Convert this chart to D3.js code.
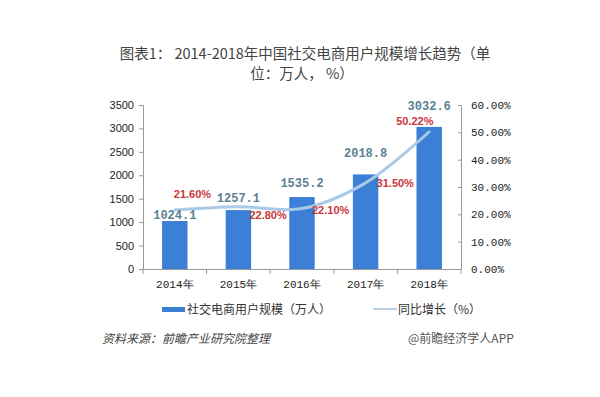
<!DOCTYPE html>
<html>
<head>
<meta charset="utf-8">
<script src="https://cdn.jsdelivr.net/npm/d3@7"></script>
<style>
  body { margin: 0; background: #fff; }
  svg { display: block; }
</style>
</head>
<body>
<script>
// chart data
var years = ["2014年", "2015年", "2016年", "2017年", "2018年"];
var users = [1024.1, 1257.1, 1535.2, 2018.8, 3032.6];
var growth = [21.60, 22.80, 22.10, 31.50, 50.22];
var leftTicks = [0, 500, 1000, 1500, 2000, 2500, 3000, 3500];
var rightTicks = [0, 10, 20, 30, 40, 50, 60];

// label nudges, in pixels (hand placed in the original)
var barLabelGap = [2, 8, 10, 17, 17];
var pctLabelDx = [-1, 11, 10, 11, -33];
var pctLabelDy = [-12, 12, 5, 4, -7];

var w = 600, h = 397;
var plotL = 143, plotR = 461, plotT = 105, plotB = 269;

var svg = d3.select("body").append("svg")
    .attr("width", w)
    .attr("height", h);

var cjk = "'Noto Sans CJK SC', 'Noto Sans', sans-serif";
var mono = "'Liberation Mono', 'DejaVu Sans Mono', monospace";

// title (wrapped over two lines like the original)
svg.append("text")
    .attr("x", 305).attr("y", 59)
    .attr("text-anchor", "middle")
    .style("font-family", cjk).style("font-size", "14.5px").style("fill", "#444")
    .text("图表1： 2014-2018年中国社交电商用户规模增长趋势（单");
svg.append("text")
    .attr("x", 302).attr("y", 79)
    .attr("text-anchor", "middle")
    .style("font-family", cjk).style("font-size", "14.5px").style("fill", "#444")
    .text("位：万人， %）");

// scales
var x = d3.scaleBand()
    .domain(years)
    .range([plotL, plotR])
    .paddingInner(0.6)
    .paddingOuter(0.3);

var yL = d3.scaleLinear().domain([0, 3500]).range([plotB, plotT]);
var yR = d3.scaleLinear().domain([0, 60]).range([plotB, plotT]);

// axes
var gL = svg.append("g")
    .attr("transform", "translate(" + plotL + ",0)")
    .call(d3.axisLeft(yL).tickValues(leftTicks).tickSize(4).tickPadding(5)
      .tickFormat(d3.format("d")));
gL.selectAll("text")
    .style("font-family", "'Liberation Sans', Arial, sans-serif")
    .style("font-size", "11px").style("fill", "#222");

var gR = svg.append("g")
    .attr("transform", "translate(" + plotR + ",0)")
    .call(d3.axisRight(yR).tickValues(rightTicks).tickSize(0).tickPadding(10)
      .tickFormat(function(d) { return d3.format(".2f")(d) + "%"; }));
gR.selectAll(".tick line").attr("x1", -3).attr("x2", 0);
gR.selectAll("text")
    .style("font-family", mono)
    .style("font-size", "11px").style("fill", "#222");

var gX = svg.append("g")
    .attr("transform", "translate(0," + plotB + ")")
    .call(d3.axisBottom(x).tickSize(0).tickPadding(11));
gX.selectAll("text")
    .style("font-family", mono)
    .style("font-size", "11px").style("fill", "#222");
// category boundary ticks
var bounds = d3.range(years.length + 1).map(function(i) {
  return plotL + i * (plotR - plotL) / years.length;
});
gX.selectAll(".bound").data(bounds).enter().append("line")
    .attr("x1", function(d) { return d; }).attr("x2", function(d) { return d; })
    .attr("y1", 0).attr("y2", 5)
    .attr("stroke", "#999");

svg.selectAll(".domain, .tick line").attr("stroke", "#999");

// bars
svg.selectAll(".bar").data(users).enter().append("rect")
    .attr("x", function(d, i) { return x(years[i]); })
    .attr("y", function(d) { return yL(d); })
    .attr("width", x.bandwidth())
    .attr("height", function(d) { return plotB - yL(d); })
    .attr("fill", "#3b7fd6");

// growth line
var pts = growth.map(function(d, i) { return [x(years[i]) + x.bandwidth() / 2, yR(d)]; });
svg.append("path")
    .datum(pts)
    .attr("d", d3.line().curve(d3.curveCatmullRom.alpha(0.5)))
    .attr("fill", "none")
    .attr("stroke", "#a9c9e8")
    .attr("stroke-width", 3)
    .attr("stroke-linecap", "round");

// bar value labels
svg.selectAll(".vlab").data(users).enter().append("text")
    .attr("x", function(d, i) { return x(years[i]) + x.bandwidth() / 2; })
    .attr("y", function(d, i) { return yL(d) - barLabelGap[i]; })
    .attr("text-anchor", "middle")
    .style("font-family", mono).style("font-size", "12px").style("font-weight", "bold")
    .style("fill", "#5b8193")
    .text(function(d) { return d3.format(".1f")(d); });

// growth labels
svg.selectAll(".plab").data(growth).enter().append("text")
    .attr("x", function(d, i) { return pts[i][0] + pctLabelDx[i]; })
    .attr("y", function(d, i) { return pts[i][1] + pctLabelDy[i]; })
    .style("font-family", "'Liberation Sans', Arial, sans-serif")
    .style("font-size", "11px").style("font-weight", "bold")
    .style("fill", "#c8373b")
    .text(function(d) { return d3.format(".2f")(d) + "%"; });

// legend
svg.append("rect")
    .attr("x", 162).attr("y", 307).attr("width", 23).attr("height", 5)
    .attr("fill", "#3b7fd6");
svg.append("text")
    .attr("x", 187).attr("y", 314)
    .style("font-family", cjk).style("font-size", "12px").style("fill", "#333")
    .text("社交电商用户规模（万人）");
svg.append("line")
    .attr("x1", 373).attr("x2", 397).attr("y1", 309).attr("y2", 309)
    .attr("stroke", "#b9cfe3").attr("stroke-width", 2);
svg.append("text")
    .attr("x", 398).attr("y", 314)
    .style("font-family", cjk).style("font-size", "12px").style("fill", "#333")
    .text("同比增长（%）");

// footer
svg.append("text")
    .attr("x", 102).attr("y", 343)
    .style("font-family", cjk).style("font-size", "12px").style("font-style", "italic")
    .style("fill", "#444")
    .text("资料来源：前瞻产业研究院整理");
svg.append("text")
    .attr("x", 408).attr("y", 343)
    .style("font-family", cjk).style("font-size", "12px")
    .style("fill", "#555")
    .text("@前瞻经济学人APP");
</script>
</body>
</html>
